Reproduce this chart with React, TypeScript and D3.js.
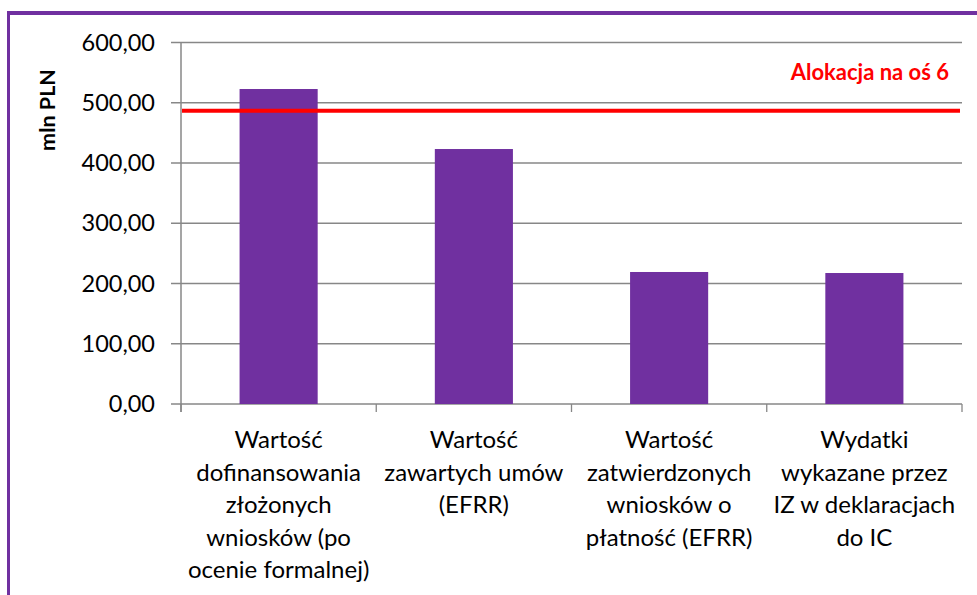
import React from "react";
import * as d3 from "d3";

const categories: string[][] = [
  ["Wartość", "dofinansowania", "złożonych", "wniosków (po", "ocenie formalnej)"],
  ["Wartość", "zawartych umów", "(EFRR)"],
  ["Wartość", "zatwierdzonych", "wniosków o", "płatność (EFRR)"],
  ["Wydatki", "wykazane przez", "IZ w deklaracjach", "do IC"],
];
const values: number[] = [522.8, 423.2, 219.1, 217.4];
const yTicks: number[] = [0, 100, 200, 300, 400, 500, 600];
const allocation = 486.8;
const allocationLabel = "Alokacja na oś 6";
const yLabel = "mln PLN";

const W = 977;
const H = 595;
const FONT = "Lato, 'Open Sans', sans-serif";

export default function App() {
  const x0 = 181, x1 = 962;
  const y = d3.scaleLinear().domain([0, 600]).range([404, 42.5]);
  const x = d3
    .scaleBand<number>()
    .domain(d3.range(categories.length))
    .range([x0, x1])
    .paddingInner(0.6)
    .paddingOuter(0.3);
  const fmt = (v: number) => d3.format(".2f")(v).replace(".", ",");
  const step = (x1 - x0) / categories.length;
  const bounds = d3.range(categories.length + 1).map((i) => x0 + i * step);

  return (
    <svg
      width={W}
      height={H}
      style={{ position: "absolute", left: 0, top: 0, background: "#fff" }}
    >
      <rect x={0} y={0} width={W} height={H} fill="#fff" />
      {/* frame */}
      <line x1={8.5} y1={13} x2={W} y2={13} stroke="#7030A0" strokeWidth={4} />
      <line x1={8.5} y1={11} x2={8.5} y2={H} stroke="#7030A0" strokeWidth={3} />

      {/* gridlines */}
      {yTicks.map((t) => (
        <g key={t}>
          <line
            x1={171}
            x2={x1}
            y1={y(t)}
            y2={y(t)}
            stroke="#878787"
            strokeWidth={1.3}
          />
          <text
            x={155}
            y={y(t)}
            dy="0.35em"
            textAnchor="end"
            fontFamily={FONT}
            fontSize={23.5}
            fill="#000"
          >
            {fmt(t)}
          </text>
        </g>
      ))}
      {/* y axis */}
      <line x1={x0} x2={x0} y1={y(600)} y2={412} stroke="#878787" strokeWidth={1.5} />
      {/* category ticks */}
      {bounds.map((b, i) => (
        <line key={i} x1={b} x2={b} y1={404} y2={412} stroke="#878787" strokeWidth={1.3} />
      ))}

      {/* bars */}
      {values.map((v, i) => (
        <rect
          key={i}
          x={x(i)}
          y={y(v)}
          width={x.bandwidth()}
          height={y(0) - y(v)}
          fill="#7030A0"
        />
      ))}

      {/* allocation line */}
      <line
        x1={x0 + 1}
        x2={960}
        y1={y(allocation)}
        y2={y(allocation)}
        stroke="#FF0000"
        strokeWidth={4}
      />
      <text
        x={949}
        y={72}
        dy="0.35em"
        textAnchor="end"
        fontFamily={FONT}
        fontWeight="bold"
        fontSize={22}
        fill="#FF0000"
      >
        {allocationLabel}
      </text>

      {/* y label */}
      <text
        transform={`translate(47,110) rotate(-90)`}
        dy="0.35em"
        textAnchor="middle"
        fontFamily={FONT}
        fontWeight="bold"
        fontSize={21.5}
        fill="#000"
      >
        {yLabel}
      </text>

      {/* category labels */}
      {categories.map((lines, i) => (
        <text
          key={i}
          textAnchor="middle"
          fontFamily={FONT}
          fontSize={24}
          fill="#000"
        >
          {lines.map((ln, j) => (
            <tspan key={j} x={x(i)! + x.bandwidth() / 2} y={440 + j * 32.5} dy="0.35em">
              {ln}
            </tspan>
          ))}
        </text>
      ))}
    </svg>
  );
}
